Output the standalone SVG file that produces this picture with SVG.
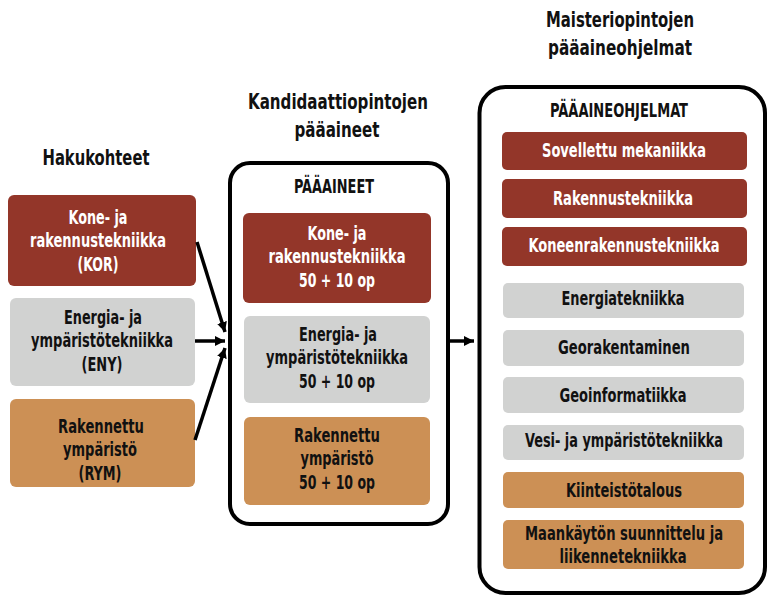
<svg xmlns="http://www.w3.org/2000/svg" width="771" height="597" viewBox="0 0 771 597">
<defs>
<style>
text{font-family:"Liberation Sans Narrow","DejaVu Sans Condensed","Liberation Sans",Arial,sans-serif;font-weight:bold;text-anchor:middle;font-stretch:condensed}
.t{font-size:22px;fill:#111}
.h{font-size:19px;fill:#111}
.b{font-size:19px;fill:#111}
.w{fill:#fff}
.red{fill:#933629}
.gray{fill:#d1d2d1}
.or{fill:#cc9055}
.frame{fill:#fff;stroke:#000;stroke-width:4}
.conn{stroke:#000;stroke-width:3.5;fill:none}
</style>
<marker id="ah" viewBox="0 0 10 10" refX="10" refY="5" markerWidth="10" markerHeight="10" markerUnits="userSpaceOnUse" orient="auto">
<path d="M0,0 L10,5 L0,10 z" fill="#000"/>
</marker>
</defs>
<rect width="771" height="597" fill="#fff"/>

<g id="titles">
<text class="t" x="96" y="165" textLength="107" lengthAdjust="spacingAndGlyphs">Hakukohteet</text>
<text class="t" x="338" y="109" textLength="180" lengthAdjust="spacingAndGlyphs">Kandidaattiopintojen</text>
<text class="t" x="337" y="137" textLength="85" lengthAdjust="spacingAndGlyphs">pääaineet</text>
<text class="t" x="620" y="27" textLength="148" lengthAdjust="spacingAndGlyphs">Maisteriopintojen</text>
<text class="t" x="620" y="55" textLength="144" lengthAdjust="spacingAndGlyphs">pääaineohjelmat</text>
</g>

<g id="hakukohde-kor">
<rect class="red" x="8" y="195" width="188" height="91" rx="6"/>
<text class="b w" x="98" y="224" textLength="59" lengthAdjust="spacingAndGlyphs">Kone- ja</text>
<text class="b w" x="98" y="247" textLength="136" lengthAdjust="spacingAndGlyphs">rakennustekniikka</text>
<text class="b w" x="98" y="271" textLength="41" lengthAdjust="spacingAndGlyphs">(KOR)</text>
</g>
<g id="hakukohde-eny">
<rect class="gray" x="10" y="298" width="185" height="88" rx="6"/>
<text class="b" x="103" y="324" textLength="78" lengthAdjust="spacingAndGlyphs">Energia- ja</text>
<text class="b" x="102" y="347" textLength="142" lengthAdjust="spacingAndGlyphs">ympäristötekniikka</text>
<text class="b" x="102" y="371" textLength="41" lengthAdjust="spacingAndGlyphs">(ENY)</text>
</g>
<g id="hakukohde-rym">
<rect class="or" x="10" y="399" width="185" height="88" rx="6"/>
<text class="b" x="101" y="433" textLength="86" lengthAdjust="spacingAndGlyphs">Rakennettu</text>
<text class="b" x="100" y="456" textLength="74" lengthAdjust="spacingAndGlyphs">ympäristö</text>
<text class="b" x="100" y="480" textLength="43" lengthAdjust="spacingAndGlyphs">(RYM)</text>
</g>

<g id="paaaineet">
<rect class="frame" x="230" y="163" width="218" height="361" rx="20"/>
<text class="h" x="334" y="193" textLength="80" lengthAdjust="spacingAndGlyphs">PÄÄAINEET</text>
</g>
<g id="pa-kor">
<rect class="red" x="243" y="213" width="188" height="90" rx="6"/>
<text class="b w" x="337" y="240" textLength="59" lengthAdjust="spacingAndGlyphs">Kone- ja</text>
<text class="b w" x="337" y="263" textLength="137" lengthAdjust="spacingAndGlyphs">rakennustekniikka</text>
<text class="b w" x="337" y="287" textLength="76" lengthAdjust="spacingAndGlyphs">50 + 10 op</text>
</g>
<g id="pa-eny">
<rect class="gray" x="244" y="316" width="186" height="87" rx="6"/>
<text class="b" x="338" y="341" textLength="78" lengthAdjust="spacingAndGlyphs">Energia- ja</text>
<text class="b" x="337" y="364" textLength="142" lengthAdjust="spacingAndGlyphs">ympäristötekniikka</text>
<text class="b" x="337" y="388" textLength="76" lengthAdjust="spacingAndGlyphs">50 + 10 op</text>
</g>
<g id="pa-rym">
<rect class="or" x="244" y="417" width="186" height="88" rx="6"/>
<text class="b" x="337" y="442" textLength="86" lengthAdjust="spacingAndGlyphs">Rakennettu</text>
<text class="b" x="337" y="465" textLength="73" lengthAdjust="spacingAndGlyphs">ympäristö</text>
<text class="b" x="337" y="489" textLength="76" lengthAdjust="spacingAndGlyphs">50 + 10 op</text>
</g>

<g id="paaaineohjelmat">
<rect class="frame" x="479.5" y="87" width="285.5" height="506" rx="26"/>
<text class="h" x="619" y="117" textLength="138" lengthAdjust="spacingAndGlyphs">PÄÄAINEOHJELMAT</text>
</g>
<g id="po-sovellettu">
<rect class="red" x="502" y="132" width="245" height="38" rx="5"/>
<text class="b w" x="624" y="157" textLength="164" lengthAdjust="spacingAndGlyphs">Sovellettu mekaniikka</text>
</g>
<g id="po-rakennus">
<rect class="red" x="502" y="179" width="245" height="39" rx="5"/>
<text class="b w" x="623" y="205" textLength="140" lengthAdjust="spacingAndGlyphs">Rakennustekniikka</text>
</g>
<g id="po-koneen">
<rect class="red" x="502" y="227" width="245" height="39" rx="5"/>
<text class="b w" transform="translate(624,252) scale(0.75,1)" x="0" y="0" textLength="255" lengthAdjust="spacingAndGlyphs">Koneenrakennustekniikka</text>
</g>
<g id="po-energia">
<rect class="gray" x="503" y="283" width="241" height="35" rx="5"/>
<text class="b" x="623" y="305" textLength="123" lengthAdjust="spacingAndGlyphs">Energiatekniikka</text>
</g>
<g id="po-georak">
<rect class="gray" x="503" y="330" width="241" height="36" rx="5"/>
<text class="b" x="624" y="354" textLength="132" lengthAdjust="spacingAndGlyphs">Georakentaminen</text>
</g>
<g id="po-geoinf">
<rect class="gray" x="503" y="377" width="241" height="36" rx="5"/>
<text class="b" x="623" y="402" textLength="127" lengthAdjust="spacingAndGlyphs">Geoinformatiikka</text>
</g>
<g id="po-vesi">
<rect class="gray" x="503" y="425" width="241" height="35" rx="5"/>
<text class="b" transform="translate(624,447) scale(0.75,1)" x="0" y="0" textLength="264" lengthAdjust="spacingAndGlyphs">Vesi- ja ympäristötekniikka</text>
</g>
<g id="po-kiinteisto">
<rect class="or" x="503" y="472" width="241" height="36" rx="5"/>
<text class="b" x="624" y="497" textLength="116" lengthAdjust="spacingAndGlyphs">Kiinteistötalous</text>
</g>
<g id="po-maankaytto">
<rect class="or" x="503" y="520" width="241" height="49" rx="5"/>
<text class="b" transform="translate(624,540) scale(0.75,1)" x="0" y="0" textLength="264" lengthAdjust="spacingAndGlyphs">Maankäytön suunnittelu ja</text>
<text class="b" x="623" y="563" textLength="127" lengthAdjust="spacingAndGlyphs">liikennetekniikka</text>
</g>

<g id="connectors">
<line class="conn" x1="197" y1="242" x2="225" y2="332" marker-end="url(#ah)"/>
<line class="conn" x1="195" y1="341" x2="225" y2="341" marker-end="url(#ah)"/>
<line class="conn" x1="195" y1="440" x2="225" y2="348" marker-end="url(#ah)"/>
<line class="conn" x1="450" y1="341" x2="474" y2="341" marker-end="url(#ah)"/>
</g>
</svg>
